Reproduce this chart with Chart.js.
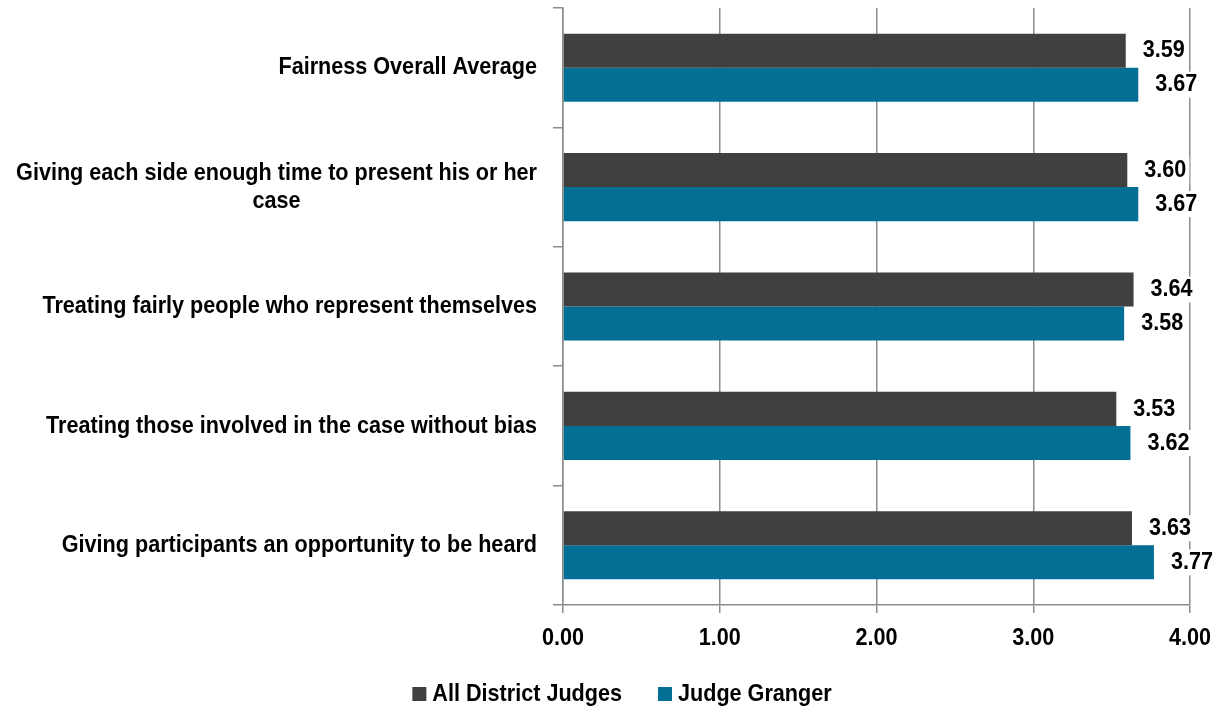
<!DOCTYPE html>
<html>
<head>
<meta charset="utf-8">
<script src="https://cdn.jsdelivr.net/npm/chart.js@4.4.1/dist/chart.umd.min.js"></script>
<style>
  html, body { margin: 0; padding: 0; background: #ffffff; }
  #wrap { width: 1220px; height: 709px; }
</style>
</head>
<body>
<div id="wrap"><canvas id="chart" width="1220" height="709"></canvas></div>
<script>
// chart data
const categories = [
  "Fairness Overall Average",
  ["Giving each side enough time to present his or her", "case"],
  "Treating fairly people who represent themselves",
  "Treating those involved in the case without bias",
  "Giving participants an opportunity to be heard"
];
const seriesNames = ["All District Judges", "Judge Granger"];
const allDistrictJudges = [3.59, 3.60, 3.64, 3.53, 3.63];
const judgeGranger = [3.67, 3.67, 3.58, 3.62, 3.77];
const xTicks = [0, 1, 2, 3, 4];
const seriesColors = ['#404040', '#036f94'];

// no narrow font installed, so squeeze Liberation Sans bold sideways
const FONT = 'bold 24px "Liberation Sans", Arial, sans-serif';
const SX = 0.9;
const GRID = '#8c8c8c';

function textW(ctx, t) { return ctx.measureText(t).width * SX; }
function drawText(ctx, t, x, y, align) {
  ctx.save();
  ctx.translate(x, y);
  ctx.scale(SX, 1);
  ctx.textAlign = align;
  ctx.fillText(t, 0, 0);
  ctx.restore();
}

// all the text: category labels, x ticks, value labels, legend
const textPlugin = {
  id: 'texts',
  afterDraw(chart) {
    const ctx = chart.ctx;
    const y = chart.scales.y;
    const x = chart.scales.x;
    ctx.save();
    ctx.font = FONT;
    ctx.textBaseline = 'middle';

    // y labels: right aligned, extra lines centred under the first
    const right = y.right - 26;
    categories.forEach((lab, i) => {
      const lines = Array.isArray(lab) ? lab : [lab];
      const widest = Math.max(...lines.map(l => textW(ctx, l)));
      const lh = 28;
      const top = y.getPixelForTick(i) - (lines.length - 1) * lh / 2;
      ctx.fillStyle = '#000';
      lines.forEach((l, j) => drawText(ctx, l, right - widest / 2, top + j * lh, 'center'));
    });

    // x tick labels
    ctx.fillStyle = '#000';
    xTicks.forEach(v => drawText(ctx, v.toFixed(2), x.getPixelForValue(v), x.top + 33, 'center'));

    // value labels right of each bar
    chart.data.datasets.forEach((ds, di) => {
      chart.getDatasetMeta(di).data.forEach((bar, i) => {
        const txt = ds.data[i].toFixed(2);
        const w = textW(ctx, txt);
        const lx = bar.x + 17;
        ctx.fillStyle = '#ffffff';
        ctx.fillRect(lx - 3, bar.y - 13, w + 6, 26);
        ctx.fillStyle = '#000';
        drawText(ctx, txt, lx, bar.y, 'left');
      });
    });

    // legend
    const box = 14, gapBox = 6, gapItem = 36;
    const widths = seriesNames.map(n => box + gapBox + textW(ctx, n));
    const total = widths[0] + widths[1] + gapItem;
    let lx = 622 - total / 2;
    const ly = 694;
    seriesNames.forEach((n, i) => {
      ctx.fillStyle = seriesColors[i];
      ctx.fillRect(lx, ly - box / 2, box, box);
      ctx.fillStyle = '#000';
      drawText(ctx, n, lx + box + gapBox, ly, 'left');
      lx += widths[i] + gapItem;
    });
    ctx.restore();
  }
};

new Chart(document.getElementById('chart').getContext('2d'), {
  type: 'bar',
  data: {
    labels: categories,
    datasets: [
      { label: seriesNames[0], data: allDistrictJudges, backgroundColor: seriesColors[0] },
      { label: seriesNames[1], data: judgeGranger, backgroundColor: seriesColors[1] }
    ]
  },
  options: {
    indexAxis: 'y',
    responsive: false,
    animation: false,
    layout: { padding: { top: 8, right: 30, left: 0, bottom: 48 } },
    datasets: { bar: { barPercentage: 1, categoryPercentage: 0.57 } },
    scales: {
      x: {
        min: 0,
        max: 4,
        afterBuildTicks(scale) { scale.ticks = xTicks.map(v => ({ value: v })); },
        afterFit(scale) { scale.height = 56; },
        grid: { color: GRID, lineWidth: 1.5, tickLength: 8 },
        border: { color: GRID, width: 1.5 },
        ticks: { display: false }
      },
      y: {
        afterFit(scale) { scale.width = 563; },
        grid: { drawOnChartArea: false, color: GRID, lineWidth: 1.5, tickLength: 10 },
        border: { color: GRID, width: 1.5 },
        ticks: { display: false }
      }
    },
    plugins: {
      legend: { display: false },
      tooltip: { enabled: false }
    }
  },
  plugins: [textPlugin]
});
</script>
</body>
</html>
